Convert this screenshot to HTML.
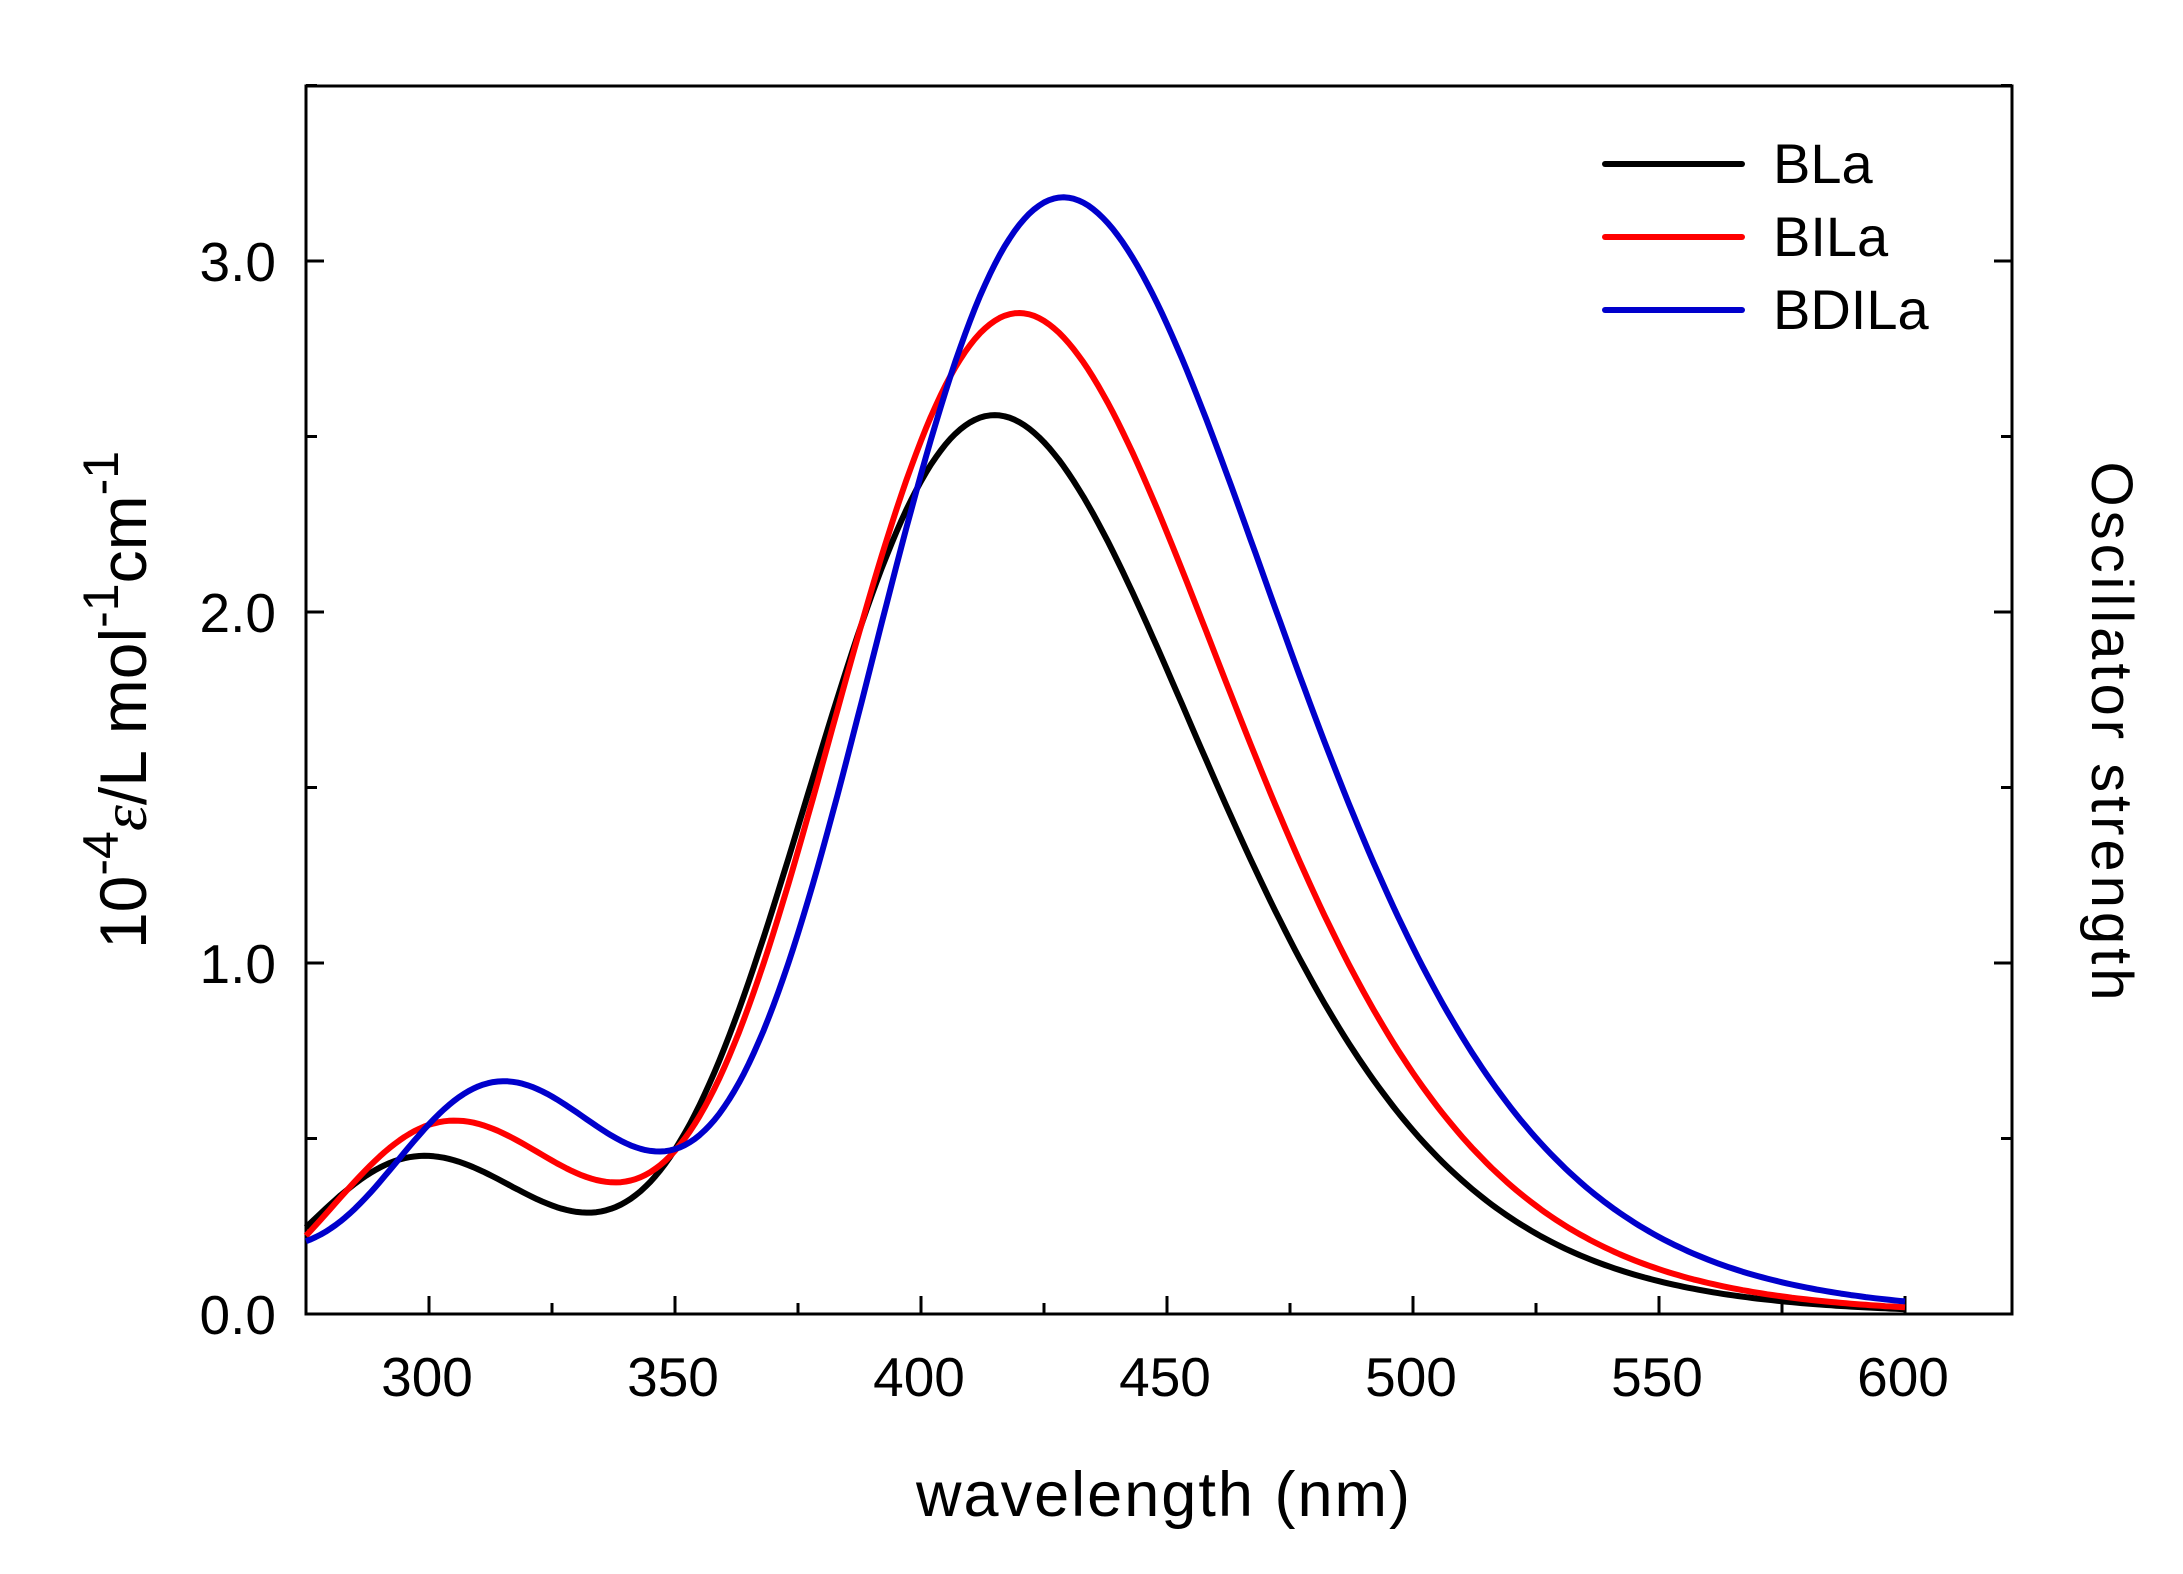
<!DOCTYPE html>
<html><head><meta charset="utf-8"><style>
html,body{margin:0;padding:0;background:#fff}
svg{display:block}
text{font-family:"Liberation Sans",sans-serif;fill:#000}
</style></head><body>
<svg id="s" width="2183" height="1574" viewBox="0 0 2183 1574" xmlns="http://www.w3.org/2000/svg">
<rect x="306" y="86" width="1706" height="1228" fill="none" stroke="#000" stroke-width="3"/>
<g id="ticks" stroke="#000" stroke-width="3"></g>
<g font-size="55" text-anchor="end">
<text x="276" y="1334">0.0</text>
<text x="276" y="983">1.0</text>
<text x="276" y="632">2.0</text>
<text x="276" y="281">3.0</text>
</g>
<g font-size="55" text-anchor="middle">
<text x="427" y="1396">300</text>
<text x="673" y="1396">350</text>
<text x="919" y="1396">400</text>
<text x="1165" y="1396">450</text>
<text x="1411" y="1396">500</text>
<text x="1657" y="1396">550</text>
<text x="1903" y="1396">600</text>
</g>
<text x="1163" y="1516" font-size="63" text-anchor="middle" textLength="494">wavelength (nm)</text>
<text transform="translate(146,700) rotate(-90)" font-size="66" text-anchor="middle">10<tspan dy="-28" font-size="50">-4</tspan><tspan dy="28" font-style="italic" font-family="Liberation Serif">ε</tspan>/L mol<tspan dy="-28" font-size="50">-1</tspan><tspan dy="28">cm</tspan><tspan dy="-28" font-size="50">-1</tspan></text>
<text transform="translate(2092,731) rotate(90)" font-size="58" text-anchor="middle" textLength="539">Oscillator strength</text>
<g stroke-width="6" stroke-linecap="round">
<line x1="1605" y1="164" x2="1742" y2="164" stroke="#000"/>
<line x1="1605" y1="237" x2="1742" y2="237" stroke="#f00"/>
<line x1="1605" y1="310" x2="1742" y2="310" stroke="#00c"/>
</g>
<g font-size="56">
<text x="1773" y="183">BLa</text>
<text x="1773" y="256">BILa</text>
<text x="1773" y="329">BDILa</text>
</g>
<g id="curves" fill="none" stroke-width="6" stroke-linejoin="round"></g>
</svg>
<script>
function X(l){return 306+(l-275)*4.92;}
function Y(v){return 1314-v*351;}
var t=document.getElementById("ticks"),h="";
for(var l=275;l<=600;l+=25){var maj=(l%50==0);var x=X(l);h+='<line x1="'+x+'" y1="1314" x2="'+x+'" y2="'+(1314-(maj?18:11))+'"/>';}
for(var v=0;v<=3.5;v+=0.5){var y=Y(v);var maj=(Math.abs(v-Math.round(v))<1e-6);var L=maj?18:11;h+='<line x1="306" y1="'+y+'" x2="'+(306+L)+'" y2="'+y+'"/><line x1="2012" y1="'+y+'" x2="'+(2012-L)+'" y2="'+y+'"/>';}
t.innerHTML=h;
function g(E,c,s){return Math.exp(-(E-c)*(E-c)/(2*s*s));}
var sers=[
 {c:"#000",p:[[2.56,415,0.285],[0.45,299,0.33]]},
 {c:"#f00",p:[[2.85,420,0.28],[0.55,305,0.33]]},
 {c:"#00c",p:[[3.18,429,0.275],[0.66,315,0.30],[0.15,262,0.25]]}
];
var cg=document.getElementById("curves"),out="";
sers.forEach(function(s){
 var d="";
 for(var l=275;l<=600;l+=1){var E=1240/l,v=0;
  s.p.forEach(function(q){v+=q[0]*g(E,1240/q[1],q[2]);});
  d+=(l==275?"M":"L")+X(l).toFixed(1)+","+Y(v).toFixed(1);}
 out+='<path d="'+d+'" stroke="'+s.c+'"/>';
});
cg.innerHTML=out;
</script>
</body></html>
